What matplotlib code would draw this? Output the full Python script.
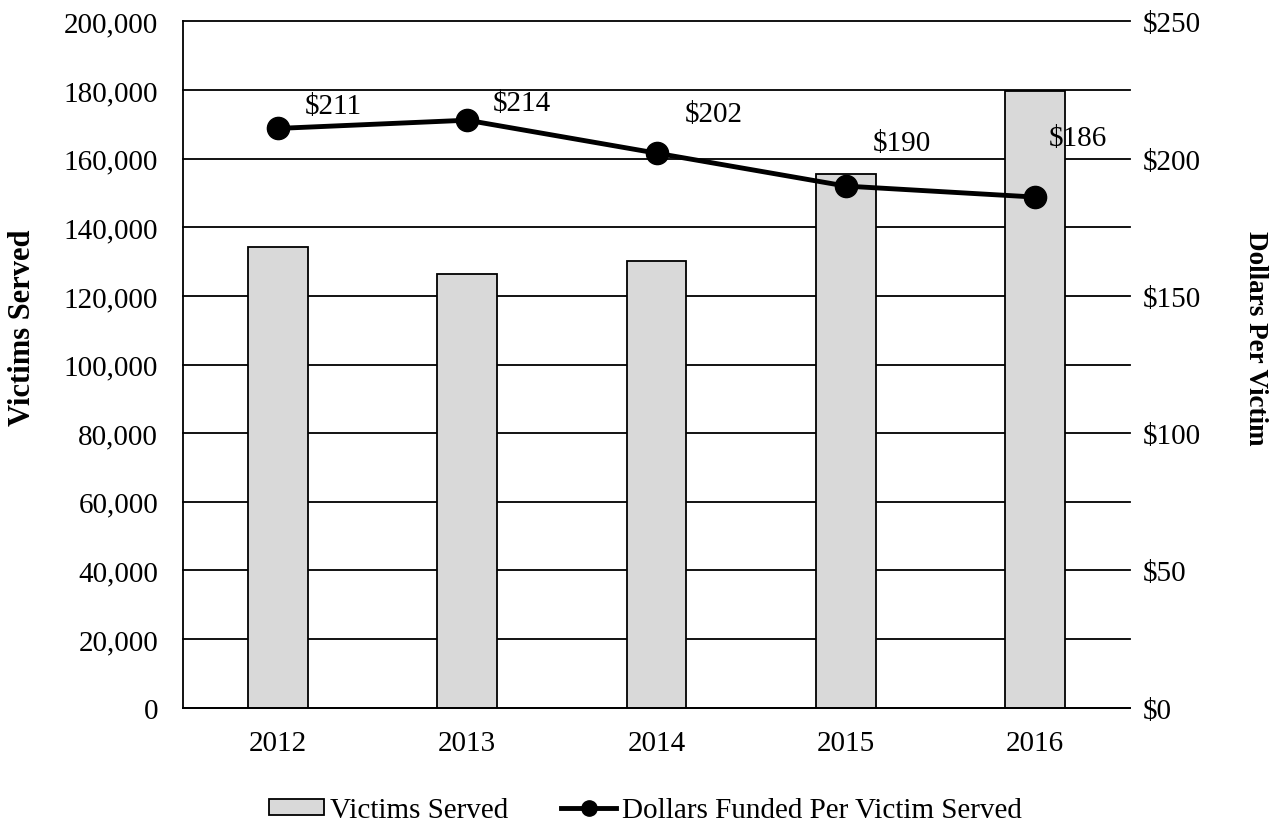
import numpy as np
import matplotlib.pyplot as plt
from matplotlib.lines import Line2D

years = ["2012", "2013", "2014", "2015", "2016"]
victims = [134300, 126300, 130300, 155500, 179700]
dollars = [211, 214, 202, 190, 186]
# label offsets in pixels (dx, dy) from each point
label_offsets = [(27, 22), (26, 17), (28, 39), (27, 43), (14, 59)]

plt.rcParams['font.family'] = ['Liberation Serif', 'DejaVu Serif']
fs = 21

fig = plt.figure(figsize=(12.81, 8.28), dpi=100)
ax = fig.add_axes([0.143, 0.144, 0.739, 0.829])
x = np.arange(len(years))

ax.set_axisbelow(True)
ax.yaxis.grid(True, color='k', linewidth=1.3)
bars = ax.bar(x, victims, width=0.315, color='#d9d9d9', edgecolor='k',
              linewidth=1.3, label='Victims Served', zorder=2)
ax.set_ylim(0, 200000)
ax.set_xlim(-0.5, 4.5)
ax.set_yticks(np.arange(0, 200001, 20000))
ax.set_yticklabels([f"{v:,}" for v in range(0, 200001, 20000)], fontsize=fs)
ax.set_xticks(x)
ax.set_xticklabels(years, fontsize=fs)
ax.tick_params(length=0)
ax.tick_params(axis='x', pad=16)
ax.tick_params(axis='y', pad=18)
ax.set_ylabel("Victims Served", fontsize=22, fontweight='bold', va='center')
ax.yaxis.set_label_coords(-0.170, 0.555)
for s in ['top', 'right']:
    ax.spines[s].set_visible(False)
ax.spines['left'].set_linewidth(1.3)
ax.spines['bottom'].set_linewidth(1.3)
for gl in ax.yaxis.get_gridlines():
    gl.set_clip_on(False)

ax2 = ax.twinx()
line, = ax2.plot(x, dollars, color='k', linewidth=3.5, marker='o',
                 markersize=16, zorder=3)
ax2.set_ylim(0, 250)
ax2.set_yticks(np.arange(0, 251, 50))
ax2.set_yticklabels([f"${v}" for v in range(0, 251, 50)], fontsize=fs)
ax2.tick_params(length=0, pad=9)
ax2.set_ylabel("Dollars Per Victim", fontsize=19.5, fontweight='bold',
               rotation=-90, va='center')
ax2.yaxis.set_label_coords(1.133, 0.540)
for s in ax2.spines.values():
    s.set_visible(False)

for xi, d, (dx, dy) in zip(x, dollars, label_offsets):
    ax2.annotate(f"${d}", (xi, d), xytext=(dx, dy), textcoords='offset pixels',
                 ha='left', va='center', fontsize=fs)

line_handle = Line2D([], [], color='k', linewidth=3.5, marker='o', markersize=11)
fig.legend(handles=[bars, line_handle],
           labels=['Victims Served', 'Dollars Funded Per Victim Served'],
           loc='center', bbox_to_anchor=(0.504, 0.02),
           ncol=2, frameon=False, fontsize=fs, handlelength=1.9, handleheight=0.5,
           columnspacing=1.8, handletextpad=0.2)

fig.savefig('out.png', dpi=100)
